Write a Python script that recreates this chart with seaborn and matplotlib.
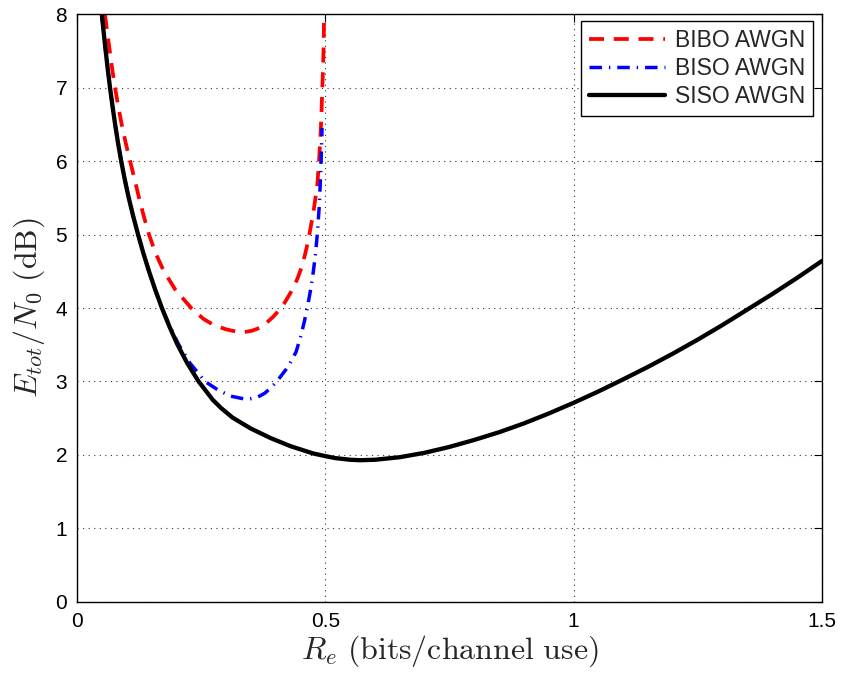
import matplotlib
matplotlib.use("Agg")
import matplotlib.pyplot as plt
import seaborn as sns
import pandas as pd

# Rate (bits/channel use) and required Etot/N0 (dB) for each channel model
siso_rate = [0.050, 0.0538, 0.0578, 0.0620, 0.0665, 0.0715, 0.0768, 0.0826, 0.089, 0.0962,
             0.1042, 0.1132, 0.123, 0.1335, 0.145, 0.1575, 0.171, 0.186, 0.2025, 0.222,
             0.245, 0.2735, 0.29, 0.313, 0.35, 0.39, 0.43, 0.476, 0.50, 0.52,
             0.55, 0.57, 0.60, 0.65, 0.70, 0.75, 0.80, 0.85, 0.90, 0.95,
             1.0, 1.05, 1.1, 1.15, 1.2, 1.25, 1.3, 1.35, 1.4, 1.45, 1.5]
siso_db = [8.0, 7.75, 7.5, 7.25, 7.0, 6.75, 6.5, 6.25, 6.0, 5.75,
           5.5, 5.25, 5.0, 4.75, 4.5, 4.25, 4.0, 3.75, 3.5, 3.25,
           3.0, 2.75, 2.64, 2.51, 2.36, 2.23, 2.12, 2.02, 1.985, 1.958,
           1.935, 1.929, 1.935, 1.97, 2.03, 2.11, 2.205, 2.31, 2.43, 2.565,
           2.71, 2.865, 3.03, 3.20, 3.38, 3.57, 3.77, 3.98, 4.19, 4.41, 4.64]

biso_rate = [0.050, 0.0538, 0.0578, 0.0620, 0.0665, 0.0715, 0.0768, 0.0826, 0.089, 0.0962,
             0.1042, 0.1132, 0.123, 0.1335, 0.145, 0.1575, 0.171, 0.187, 0.205, 0.2275,
             0.258, 0.285, 0.31, 0.335, 0.345, 0.362, 0.378, 0.393, 0.408, 0.425,
             0.441, 0.450, 0.458, 0.465, 0.471, 0.476, 0.4805, 0.4845, 0.488, 0.4905,
             0.4922, 0.4935]
biso_db = [8.0, 7.75, 7.5, 7.25, 7.0, 6.75, 6.5, 6.25, 6.0, 5.75,
           5.5, 5.25, 5.0, 4.75, 4.5, 4.25, 4.0, 3.75, 3.5, 3.25,
           3.0, 2.88, 2.80, 2.765, 2.76, 2.78, 2.84, 2.93, 3.05, 3.20,
           3.40, 3.60, 3.82, 4.05, 4.27, 4.50, 4.75, 5.05, 5.40, 5.80,
           6.15, 6.45]

bibo_rate = [0.0564, 0.061, 0.066, 0.071, 0.0766, 0.083, 0.090, 0.098, 0.107, 0.116,
             0.125, 0.1345, 0.145, 0.158, 0.175, 0.198, 0.230, 0.255, 0.275, 0.300,
             0.320, 0.335, 0.352, 0.368, 0.382, 0.395, 0.407, 0.418, 0.432, 0.444,
             0.453, 0.460, 0.466, 0.476, 0.484, 0.488, 0.491, 0.493, 0.495, 0.4965,
             0.498]
bibo_db = [8.0, 7.75, 7.5, 7.25, 7.0, 6.75, 6.5, 6.25, 6.0, 5.75,
           5.5, 5.25, 5.0, 4.75, 4.5, 4.25, 4.0, 3.85, 3.77, 3.71,
           3.68, 3.67, 3.69, 3.73, 3.80, 3.88, 3.97, 4.07, 4.23, 4.40,
           4.57, 4.75, 4.93, 5.30, 5.68, 6.07, 6.43, 6.79, 7.18, 7.52,
           8.2]

labels = ["BIBO AWGN", "BISO AWGN", "SISO AWGN"]
x_ticks = [0, 0.5, 1, 1.5]
x_tick_labels = ["0", "0.5", "1", "1.5"]
y_ticks = [0, 1, 2, 3, 4, 5, 6, 7, 8]

sns.set_theme(style="white")
plt.rcParams["font.family"] = ["Liberation Sans", "DejaVu Sans"]
plt.rcParams["mathtext.fontset"] = "cm"

fig = plt.figure(figsize=(8.42, 6.77), dpi=100)
ax = fig.add_axes([0.0914, 0.1108, 0.8848, 0.8685])

frames = []
for name, xs, ys in [(labels[0], bibo_rate, bibo_db),
                     (labels[1], biso_rate, biso_db),
                     (labels[2], siso_rate, siso_db)]:
    frames.append(pd.DataFrame({"rate": xs, "db": ys, "model": name}))
df = pd.concat(frames, ignore_index=True)

styles = {
    labels[0]: dict(color="#ff0000", lw=2.7, dashes=(4, 2.6)),
    labels[1]: dict(color="#0000ff", lw=2.5, dashes=(3.6, 2.0, 0.4, 2.0)),
    labels[2]: dict(color="#000000", lw=3.1, dashes=()),
}
for name in labels:
    st = styles[name]
    sub = df[df["model"] == name]
    line_ax = sns.lineplot(data=sub, x="rate", y="db", ax=ax, sort=False,
                           estimator=None, color=st["color"], linewidth=st["lw"],
                           label=name)
    ln = line_ax.get_lines()[-1]
    if st["dashes"]:
        ln.set_dashes(st["dashes"])
    ln.set_dash_capstyle("butt")
    ln.set_solid_joinstyle("round")

ax.set_xlim(0, 1.5)
ax.set_ylim(0, 8)
ax.set_xticks(x_ticks)
ax.set_xticklabels(x_tick_labels)
ax.set_yticks(y_ticks)

ax.grid(True, which="major", linestyle=(0, (1, 4)), color="#333333", linewidth=0.8)
ax.tick_params(direction="in", length=6, width=0.8, top=True, right=True,
               labelsize=15, colors="black", pad=7)
for sp in ax.spines.values():
    sp.set_color("black")
    sp.set_linewidth(1.0)

ax.set_xlabel(r"$R_e\ \mathrm{(bits/channel\ use)}$", fontsize=23, labelpad=2)
ax.set_ylabel(r"$E_{tot}/N_0\ \mathrm{(dB)}$", fontsize=23, labelpad=6)

leg = ax.legend(loc="upper right", bbox_to_anchor=(0.9885, 0.988), fontsize=16.5,
                frameon=True, fancybox=False, handlelength=3.3, handletextpad=0.45,
                borderpad=0.35, labelspacing=0.22, borderaxespad=0.0)
leg.get_frame().set_edgecolor("black")
leg.get_frame().set_linewidth(1.0)
leg.get_frame().set_alpha(1.0)
for h in leg.get_lines():
    h.set_dash_capstyle("butt")

fig.savefig("out.png", dpi=100)
